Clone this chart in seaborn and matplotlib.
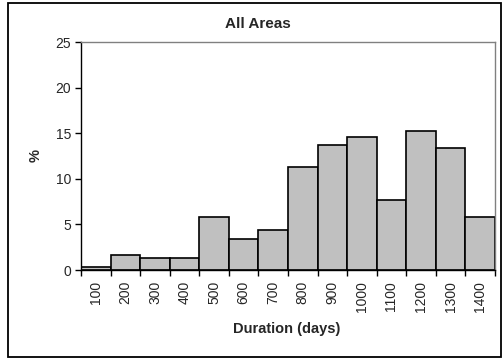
import matplotlib
matplotlib.use("Agg")
import matplotlib.pyplot as plt
from matplotlib.patches import Rectangle
import seaborn as sns
import pandas as pd
import numpy as np

categories = ["100", "200", "300", "400", "500", "600", "700", "800", "900", "1000", "1100", "1200", "1300", "1400"]
percent = [0.3, 1.6, 1.3, 1.3, 5.8, 3.4, 4.4, 11.3, 13.7, 14.6, 7.7, 15.2, 13.4, 5.8]
yticks = [0, 5, 10, 15, 20, 25]

sns.set_style("white")
plt.rcParams['font.family'] = ['Liberation Sans', 'DejaVu Sans']

df = pd.DataFrame({"cat": categories, "pct": percent})

fig = plt.figure(figsize=(5.03, 3.6), dpi=100)
ax = fig.add_axes([81/503, 1-270/360, (495-81)/503, (270-42)/360])

sns.barplot(data=df, x="cat", y="pct", ax=ax, color="#C0C0C0", saturation=1,
            width=1.0, edgecolor="black", linewidth=1.2, order=categories)
for p in ax.patches:
    p.set_facecolor("#C0C0C0")

ax.set_xlim(-0.5, len(categories) - 0.5)
ax.set_ylim(0, 25)
ax.set_yticks(yticks)
ax.set_yticklabels([str(v) for v in yticks], fontsize=10)
ax.set_xticks(range(len(categories)))
ax.set_xticklabels(categories, rotation=90, fontsize=10)
ax.set_xticks(np.arange(-0.5, len(categories), 1.0), minor=True)
ax.tick_params(axis="x", which="major", length=0, pad=8)
ax.tick_params(axis="x", which="minor", length=4, width=1, color="black", direction="out", bottom=True)
ax.tick_params(axis="y", which="major", length=4, width=1, color="black", direction="out", left=True, pad=3)

for s in ["left", "bottom"]:
    ax.spines[s].set_color("black")
    ax.spines[s].set_linewidth(1.0)
for s in ["top", "right"]:
    ax.spines[s].set_color("#808080")
    ax.spines[s].set_linewidth(1.0)
    ax.spines[s].set_visible(True)

ax.set_xlabel("")
ax.set_ylabel("")
fig.text(287/503, 1-329/360, "Duration (days)", ha="center", va="center", fontsize=10.5, fontweight="bold")
fig.text(36/503, 1-155/360, "%", ha="center", va="center", rotation=90, fontsize=10.5, fontweight="bold")
fig.text(258/503, 1-24/360, "All Areas", ha="center", va="center", fontsize=11, fontweight="bold")

fig.patches.append(Rectangle((8/503, 3/360), (501-8)/503, (357-3)/360, transform=fig.transFigure,
                             fill=False, edgecolor="black", linewidth=1.3))

fig.savefig("out.png", dpi=100)
